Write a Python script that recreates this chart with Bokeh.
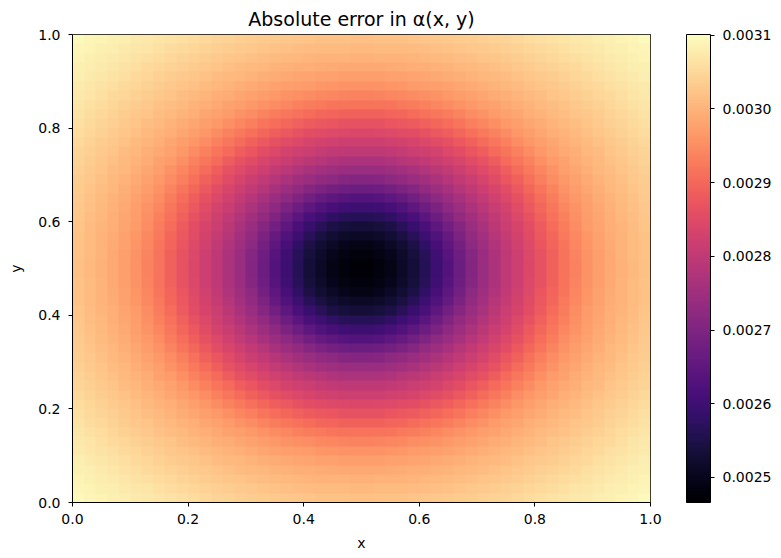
import numpy as np
from bokeh.plotting import figure
from bokeh.models import LinearColorMapper, ColorBar, FixedTicker, PrintfTickFormatter, Range1d
from bokeh.palettes import Magma256
from bokeh.embed import file_html
from bokeh.resources import INLINE

# Radial profile of the absolute error:
# distance from the centre (0.5, 0.5) -> value
profile_r = [0.0, 0.05, 0.10, 0.15, 0.20, 0.25, 0.30, 0.35, 0.40, 0.45, 0.50, 0.60, 0.71]
profile_v = [0.002466, 0.002491, 0.002542, 0.002631, 0.002726, 0.002796, 0.002853,
             0.002916, 0.002967, 0.002999, 0.003024, 0.003068, 0.003100]
n_cells = 50
x_ticks = [0.0, 0.2, 0.4, 0.6, 0.8, 1.0]
y_ticks = [0.0, 0.2, 0.4, 0.6, 0.8, 1.0]
cbar_ticks = [0.0025, 0.0026, 0.0027, 0.0028, 0.0029, 0.0030, 0.0031]
cbar_low = 0.002466
cbar_high = 0.003101

centres = (np.arange(n_cells) + 0.5) / n_cells
X, Y = np.meshgrid(centres, centres)
R = np.sqrt((X - 0.5) ** 2 + (Y - 0.5) ** 2)
Z = np.interp(R, profile_r, profile_v)

FONT = "DejaVu Sans"

p = figure(width=765, height=542, output_backend="svg", toolbar_location=None,
           x_range=Range1d(0, 1), y_range=Range1d(0, 1),
           frame_width=578, frame_height=468,
           min_border_left=72, min_border_top=27, min_border_bottom=47, min_border_right=10,
           title="Absolute error in α(x, y)")
p.title.align = "center"
p.title.text_font = FONT
p.title.text_font_size = "19px"
p.title.text_font_style = "normal"
p.title.text_color = "black"

mapper = LinearColorMapper(palette=Magma256, low=cbar_low, high=cbar_high)
p.image(image=[Z], x=0, y=0, dw=1, dh=1, color_mapper=mapper)

p.xgrid.visible = False
p.ygrid.visible = False
p.outline_line_color = "black"
p.outline_line_alpha = 1.0
p.outline_line_width = 1

for ax, ticks, label, lab_so, ax_so in ((p.xaxis[0], x_ticks, "x", 7, 8),
                                         (p.yaxis[0], y_ticks, "y", 8, 11)):
    ax.ticker = FixedTicker(ticks=ticks)
    ax.formatter = PrintfTickFormatter(format="%.1f")
    ax.axis_label = label
    ax.axis_label_text_font = FONT
    ax.axis_label_text_font_size = "14px"
    ax.axis_label_text_font_style = "normal"
    ax.axis_label_text_color = "black"
    ax.axis_label_standoff = ax_so
    ax.major_label_standoff = lab_so
    ax.major_label_text_font = FONT
    ax.major_label_text_font_size = "14px"
    ax.major_label_text_color = "black"
    ax.major_tick_in = 0
    ax.major_tick_out = 4
    ax.minor_tick_in = 0
    ax.minor_tick_out = 0
    ax.axis_line_color = "black"
    ax.major_tick_line_color = "black"

cb = ColorBar(color_mapper=mapper, width=24, height=468,
              ticker=FixedTicker(ticks=cbar_ticks),
              formatter=PrintfTickFormatter(format="%.4f"),
              major_label_text_font=FONT, major_label_text_font_size="14px",
              major_label_text_color="black",
              major_tick_in=0, major_tick_out=4, major_tick_line_color="black",
              bar_line_color="black", margin=0, padding=0,
              location=(36, 0),
              label_standoff=8, border_line_color=None,
              background_fill_alpha=0)
p.add_layout(cb, "right")

open("out.html", "w").write(file_html(p, INLINE))
